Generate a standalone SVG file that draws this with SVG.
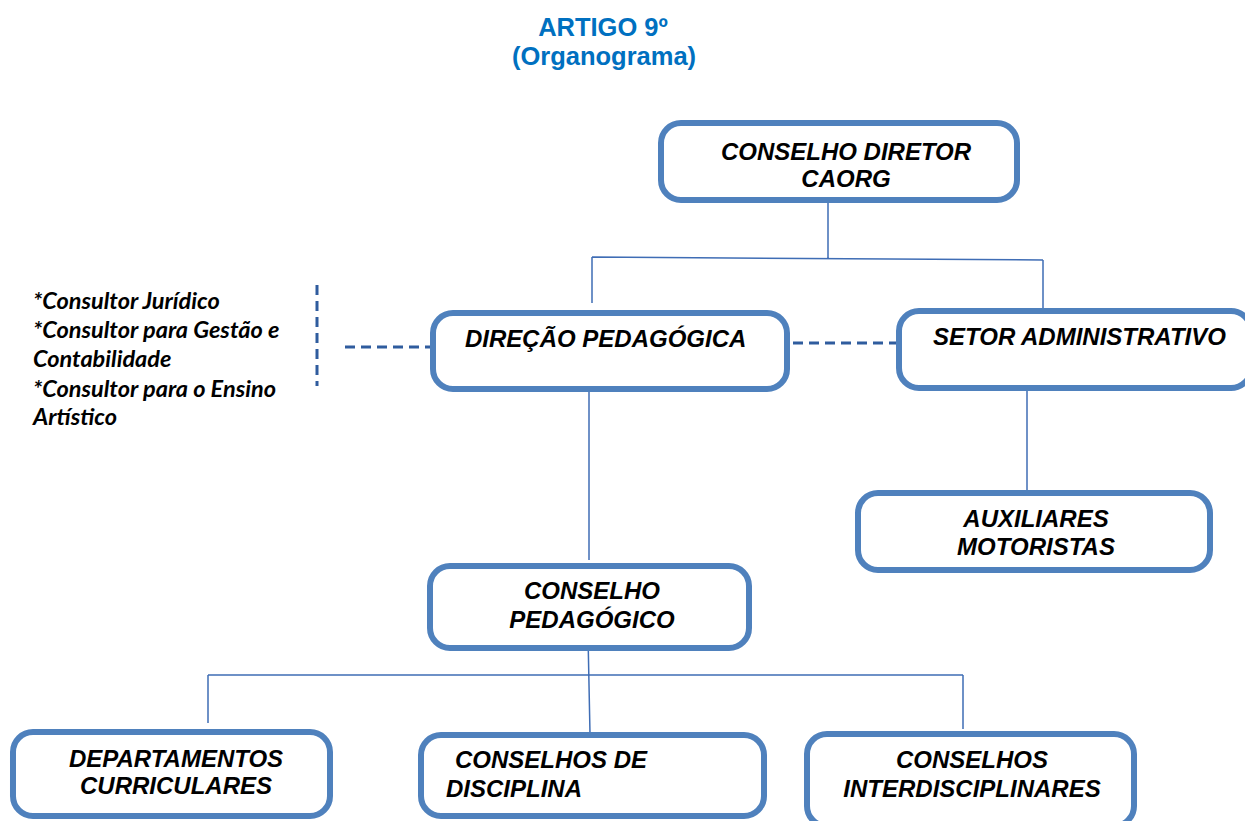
<svg xmlns="http://www.w3.org/2000/svg" width="1245" height="821" viewBox="0 0 1245 821">
<style>
.box{fill:#fff;stroke:#4F81BD;stroke-width:6}
.t{font-family:"Liberation Sans",Arial,sans-serif;font-weight:bold;font-style:italic;font-size:24px;fill:#000}
.c{text-anchor:middle}
.title{font-family:"Liberation Sans",Arial,sans-serif;font-weight:bold;font-size:25.5px;fill:#0070C0;text-anchor:middle}
.note{font-family:Lato,"Open Sans",sans-serif;font-weight:bold;font-style:italic;font-size:23.5px;fill:#000}
.ln{fill:none;stroke:#3F6DB5;stroke-width:1.5}
.dash{fill:none;stroke:#2F5C9E;stroke-width:3;stroke-dasharray:10 6}
</style>
<rect width="1245" height="821" fill="#fff"/>
<g id="title">
<text class="title" x="603" y="36">ARTIGO 9º</text>
<text class="title" x="604" y="65">(Organograma)</text>
</g>
<g id="connectors">
<path class="ln" d="M828 202 V258 M592 257 L1043 260 M592 257 V303 M1043 260 V308"/>
<path class="ln" d="M589 391 V560"/>
<path class="ln" d="M1027 391 V490"/>
<path class="ln" d="M588 635 L590 734 M208 675 H963 M208 675 V723 M963 675 V729"/>
<path class="dash" d="M793 343 H896"/>
<path class="dash" d="M345 347 H430"/>
<path class="dash" d="M317 285 V386"/>
</g>
<g id="conselho-diretor">
<rect class="box" x="661" y="123" width="356" height="77" rx="20"/>
<text class="t c" x="846" y="160">CONSELHO DIRETOR</text>
<text class="t c" x="846" y="187">CAORG</text>
</g>
<g id="consultores">
<text class="note" x="33" y="309">*Consultor Jurídico</text>
<text class="note" x="33" y="338">*Consultor para Gestão e</text>
<text class="note" x="33" y="367">Contabilidade</text>
<text class="note" x="33" y="397">*Consultor para o Ensino</text>
<text class="note" x="33" y="425">Artístico</text>
</g>
<g id="direcao-pedagogica">
<rect class="box" x="433" y="313" width="354" height="76" rx="20"/>
<text class="t" x="465" y="347">DIREÇÃO PEDAGÓGICA</text>
</g>
<g id="setor-administrativo">
<rect class="box" x="899" y="311" width="352" height="77" rx="20"/>
<text class="t" x="933" y="345">SETOR ADMINISTRATIVO</text>
</g>
<g id="auxiliares">
<rect class="box" x="858" y="493" width="352" height="77" rx="20"/>
<text class="t c" x="1036" y="527">AUXILIARES</text>
<text class="t c" x="1036" y="555">MOTORISTAS</text>
</g>
<g id="conselho-pedagogico">
<rect class="box" x="430" y="566" width="319" height="82" rx="20"/>
<text class="t c" x="592" y="599">CONSELHO</text>
<text class="t c" x="592" y="628">PEDAGÓGICO</text>
</g>
<g id="departamentos">
<rect class="box" x="13" y="732" width="317" height="84" rx="20"/>
<text class="t c" x="176" y="767">DEPARTAMENTOS</text>
<text class="t c" x="176" y="794">CURRICULARES</text>
</g>
<g id="conselhos-disciplina">
<rect class="box" x="421" y="735" width="343" height="81" rx="20"/>
<text class="t" x="455" y="768">CONSELHOS DE</text>
<text class="t" x="446" y="797">DISCIPLINA</text>
</g>
<g id="conselhos-interdisciplinares">
<rect class="box" x="807" y="734" width="327" height="92" rx="20"/>
<text class="t c" x="972" y="768">CONSELHOS</text>
<text class="t c" x="972" y="797">INTERDISCIPLINARES</text>
</g>
</svg>
